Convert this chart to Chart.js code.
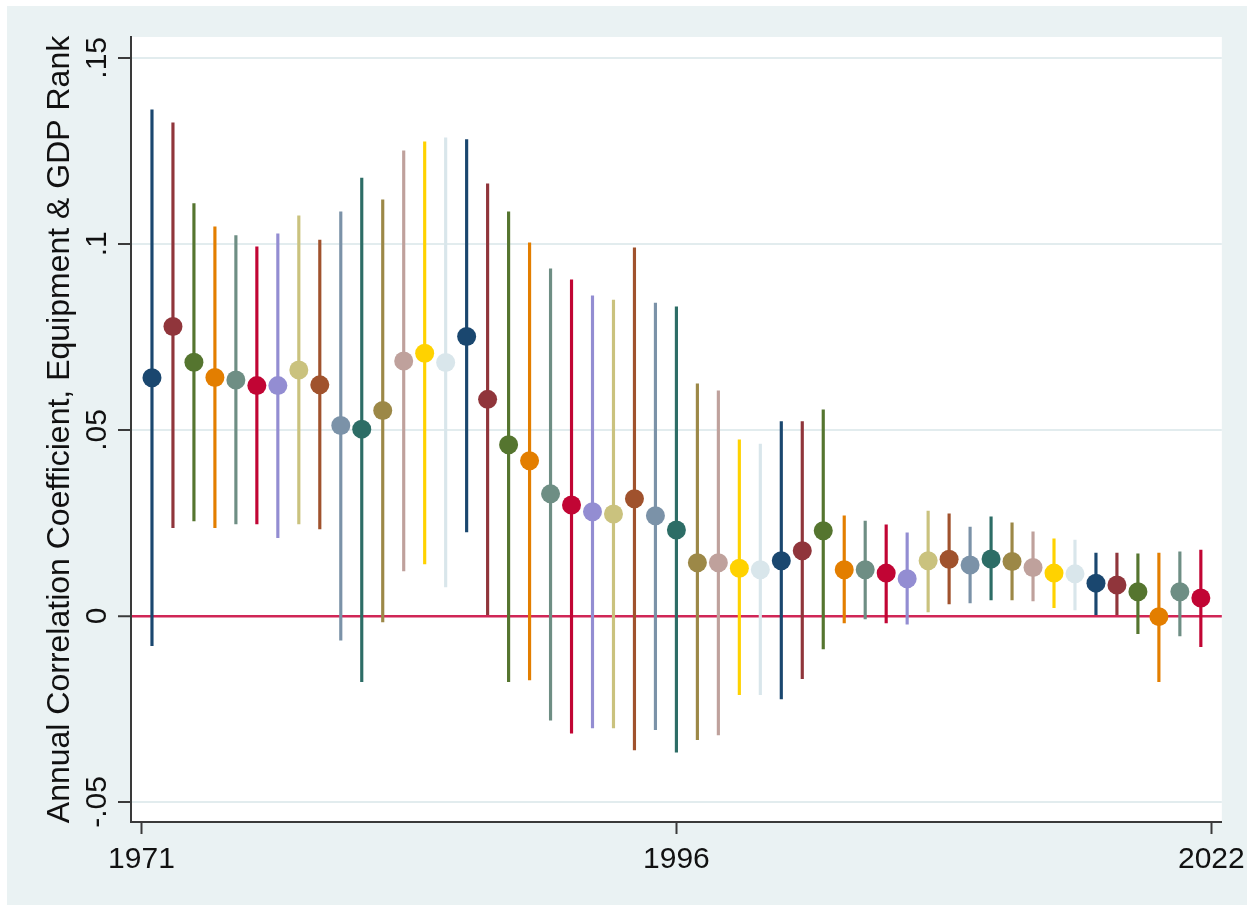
<!DOCTYPE html>
<html>
<head>
<meta charset="utf-8">
<script src="https://cdn.jsdelivr.net/npm/chart.js@4.4.1/dist/chart.umd.min.js"></script>
<style>
  html, body { margin: 0; padding: 0; background: #ffffff; }
  #wrap { width: 1253px; height: 910px; position: relative; }
  canvas { display: block; }
</style>
</head>
<body>
<div id="wrap"><canvas id="chart" width="1253" height="910"></canvas></div>
<script>
// Annual correlation coefficients with their confidence bounds, one slot per year
const estimates = [
  0.064, 0.0778, 0.0682, 0.0641, 0.0634, 0.0619, 0.0619, 0.0661, 0.0621, 0.0512,
  0.0502, 0.0552, 0.0685, 0.0706, 0.0681, 0.0751, 0.0582, 0.046, 0.0417, 0.0328,
  0.0298, 0.028, 0.0274, 0.0315, 0.0269, 0.0231, 0.0143, 0.0143, 0.0128, 0.0124,
  0.0148, 0.0175, 0.0229, 0.0124, 0.0124, 0.0115, 0.010, 0.0148, 0.0152, 0.0137,
  0.0153, 0.0146, 0.013, 0.0115, 0.0113, 0.0088, 0.0083, 0.0065, -0.0002, 0.0065, 0.0048
];
const ciUpper = [
  0.136, 0.1325, 0.1108, 0.1046, 0.1022, 0.0992, 0.1027, 0.1075, 0.101, 0.1086,
  0.1177, 0.1118, 0.125, 0.1274, 0.1285, 0.128, 0.1161, 0.1086, 0.1003, 0.0933,
  0.0903, 0.086, 0.0849, 0.0989, 0.0841, 0.0831, 0.0624, 0.0605, 0.0473, 0.0462,
  0.0522, 0.0522, 0.0554, 0.0269, 0.0255, 0.0245, 0.0223, 0.0282, 0.0274, 0.0239,
  0.0266, 0.025, 0.0226, 0.0207, 0.0204, 0.0169, 0.0169, 0.0167, 0.0169, 0.0172, 0.0177
];
const ciLower = [
  -0.008, 0.0237, 0.0255, 0.0237, 0.0247, 0.0247, 0.021, 0.0247, 0.0234, -0.0065,
  -0.0177, -0.0016, 0.0121, 0.014, 0.0078, 0.0226, 0.0, -0.0177, -0.0172, -0.028,
  -0.0315, -0.0301, -0.0301, -0.036, -0.0306, -0.0366, -0.0333, -0.032, -0.0212, -0.0212,
  -0.0223, -0.0169, -0.0089, -0.0019, -0.0008, -0.0019, -0.0022, 0.0011, 0.0032, 0.0035,
  0.0043, 0.0043, 0.004, 0.0022, 0.0016, 0.0003, 0.0003, -0.0048, -0.0177, -0.0054, -0.0083
];

// Stata s2color cycle
const palette = [
  '#1a476f', '#90353b', '#55752f', '#e37e00', '#6e8e84',
  '#c10534', '#938dd2', '#cac27e', '#a0522d', '#7b92a8',
  '#2d6d66', '#9c8847', '#bfa19c', '#ffd200', '#d9e6eb'
];

const xTickPositions = [0.5, 26, 51.5];
const xTickLabels = ['1971', '1996', '2022'];
const yTickValues = [-0.05, 0, 0.05, 0.1, 0.15];
const yTickLabels = ['-.05', '0', '.05', '.1', '.15'];
const yTitle = 'Annual Correlation Coefficient, Equipment & GDP Rank';

const FONT = '"Liberation Sans", Arial, Helvetica, sans-serif';
const colors = estimates.map((_, i) => palette[i % palette.length]);

const pointData = estimates.map((v, i) => ({ x: i + 1, y: v }));
const spikeData = estimates.map((_, i) => ({ x: i + 1, y: [ciLower[i], ciUpper[i]] }));

// Graph region, plot region and rotated y tick labels
const frame = {
  id: 'frame',
  beforeDraw(chart) {
    const { ctx, chartArea: a } = chart;
    ctx.save();
    ctx.fillStyle = '#ffffff';
    ctx.fillRect(0, 0, chart.width, chart.height);
    ctx.fillStyle = '#eaf2f3';
    ctx.fillRect(7, 6, 1240, 899);
    ctx.fillStyle = '#ffffff';
    ctx.fillRect(a.left, a.top, a.right - a.left, a.bottom - a.top);
    ctx.restore();
  },
  afterDraw(chart) {
    const { ctx } = chart;
    const y = chart.scales.y;
    ctx.save();
    ctx.fillStyle = '#111111';
    ctx.font = '30px ' + FONT;
    ctx.textAlign = 'center';
    ctx.textBaseline = 'alphabetic';
    yTickValues.forEach((v, i) => {
      const py = y.getPixelForValue(v);
      ctx.save();
      ctx.translate(106, py);
      ctx.rotate(-Math.PI / 2);
      ctx.fillText(yTickLabels[i], 0, 0);
      ctx.restore();
    });
    ctx.restore();
  }
};

new Chart(document.getElementById('chart'), {
  type: 'scatter',
  data: {
    datasets: [
      {
        type: 'scatter',
        data: pointData,
        order: 0,
        pointRadius: 9.5,
        pointHoverRadius: 9.5,
        pointBackgroundColor: colors,
        pointBorderWidth: 0,
        showLine: false
      },
      {
        type: 'bar',
        data: spikeData,
        order: 1,
        backgroundColor: colors,
        borderWidth: 0,
        barThickness: 2.5
      }
    ]
  },
  plugins: [frame],
  options: {
    responsive: false,
    animation: false,
    devicePixelRatio: 1,
    layout: { padding: { left: 0, top: 37, right: 31, bottom: 28 } },
    plugins: { legend: { display: false }, tooltip: { enabled: false } },
    scales: {
      x: {
        type: 'linear',
        min: 0,
        max: 52,
        offset: false,
        afterBuildTicks: (s) => { s.ticks = xTickPositions.map(v => ({ value: v })); },
        afterFit: (s) => { s.height = 60; },
        grid: {
          offset: false,
          drawOnChartArea: false,
          drawTicks: true,
          tickLength: 12,
          tickColor: '#3a3a3a',
          tickWidth: 2
        },
        border: { display: true, color: '#3a3a3a', width: 2 },
        ticks: {
          autoSkip: false,
          maxRotation: 0,
          minRotation: 0,
          padding: 8,
          color: '#111111',
          font: { family: FONT, size: 30 },
          callback: (v, i) => xTickLabels[i]
        }
      },
      y: {
        type: 'linear',
        min: -0.0554,
        max: 0.1556,
        afterBuildTicks: (s) => { s.ticks = yTickValues.map(v => ({ value: v })); },
        afterFit: (s) => { s.width = 131; },
        grid: {
          drawOnChartArea: true,
          drawTicks: true,
          tickLength: 13,
          tickColor: '#3a3a3a',
          tickWidth: 2,
          color: (c) => (c.tick && c.tick.value === 0) ? '#d02656' : '#e2ecee',
          lineWidth: (c) => (c.tick && c.tick.value === 0) ? 2.5 : 2
        },
        border: { display: true, color: '#3a3a3a', width: 2 },
        ticks: { display: false },
        title: {
          display: true,
          text: yTitle,
          color: '#111111',
          font: { family: FONT, size: 32 },
          padding: { top: 41, bottom: 0 }
        }
      }
    }
  }
});
</script>
</body>
</html>
